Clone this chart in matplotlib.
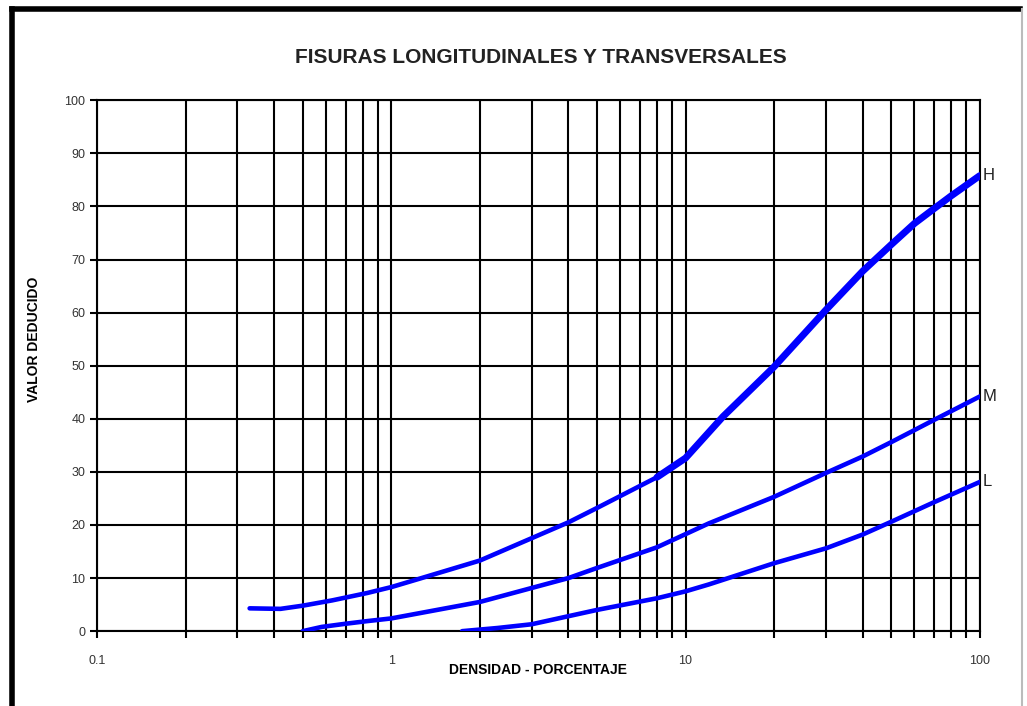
import numpy as np
import matplotlib
matplotlib.use("Agg")
import matplotlib.pyplot as plt
from matplotlib.lines import Line2D
from matplotlib.ticker import LogLocator, FixedLocator, NullFormatter

plt.rcParams['font.family'] = ['Liberation Sans', 'DejaVu Sans']

# curve H (high severity)
h_dens = [0.33, 0.42, 0.5, 0.63, 0.83, 1, 1.25, 2, 4, 5, 8, 10, 13.4, 20, 30, 40, 50, 60, 70, 80, 100]
h_val = [4.3, 4.2, 4.8, 5.8, 7.2, 8.3, 9.9, 13.3, 20.5, 23.2, 29, 32.6, 40.4, 49.8, 60.5, 67.8, 72.8, 76.8, 79.6, 82, 85.8]

# curve M (medium severity)
m_dens = [0.5, 0.58, 0.7, 0.83, 1, 2, 4, 5, 8, 12, 20, 30, 40, 50, 70, 100]
m_val = [0, 0.8, 1.4, 1.9, 2.4, 5.5, 10, 11.9, 15.8, 20.3, 25.3, 29.8, 32.9, 35.6, 39.8, 44.2]

# curve L (low severity)
l_dens = [1.74, 2.3, 3, 5, 8, 10, 12, 20, 30, 40, 50, 70, 100]
l_val = [0, 0.6, 1.3, 4, 6.2, 7.5, 8.8, 12.8, 15.6, 18.2, 20.6, 24.3, 28.1]

y_ticks = list(range(0, 101, 10))
x_ticks = [0.1, 1, 10, 100]
x_ticklabels = ['0.1', '1', '10', '100']

fig = plt.figure(figsize=(10.27, 7.06), dpi=100)
ax = fig.add_axes([0.0945, 0.106, 0.8595, 0.752])

blue = '#0000ff'
ax.plot(h_dens, h_val, color=blue, lw=3.3, solid_capstyle='round', solid_joinstyle='round', zorder=3)
# upper part of H is drawn heavier in the original
hx = np.array(h_dens)
hy = np.array(h_val)
ax.plot(hx[hx >= 8], hy[hx >= 8], color=blue, lw=5, solid_capstyle='round', solid_joinstyle='round', zorder=3)
ax.plot(m_dens, m_val, color=blue, lw=3.3, solid_capstyle='round', solid_joinstyle='round', zorder=3)
ax.plot(l_dens, l_val, color=blue, lw=3.3, solid_capstyle='round', solid_joinstyle='round', zorder=3)

# curve names at the right end
for name, xs, ys in [('H', h_dens, h_val), ('M', m_dens, m_val), ('L', l_dens, l_val)]:
    ax.text(xs[-1] * 1.02, ys[-1], name, fontsize=12, va='center', ha='left',
            color='#222222', clip_on=False)

ax.set_xscale('log')
ax.set_xlim(0.1, 100)
ax.set_ylim(0, 100)
ax.xaxis.set_major_locator(FixedLocator(x_ticks))
ax.set_xticklabels(x_ticklabels)
ax.xaxis.set_minor_locator(LogLocator(base=10, subs=np.arange(2, 10)))
ax.xaxis.set_minor_formatter(NullFormatter())
ax.set_yticks(y_ticks)

ax.grid(True, which='both', axis='x', color='black', lw=1.5)
ax.grid(True, which='major', axis='y', color='black', lw=1.5)
for s in ax.spines.values():
    s.set_linewidth(1.5)
ax.tick_params(axis='both', which='both', direction='out', length=5, width=1.5,
               labelsize=9, colors='black', labelcolor='#333333')
ax.tick_params(axis='x', pad=12)

ax.set_xlabel('DENSIDAD - PORCENTAJE', fontsize=10, fontweight='bold', labelpad=-3)
ax.set_ylabel('VALOR DEDUCIDO', fontsize=10, fontweight='bold')
ax.yaxis.set_label_coords(-0.063, 0.55)

fig.text(0.527, 0.919, 'FISURAS LONGITUDINALES Y TRANSVERSALES', ha='center', va='center',
         fontsize=15, fontweight='bold', color='#222222')

# frame around the figure
fig.add_artist(Line2D([0.0117, 0.0117], [0.0, 0.987], color='black', lw=4, transform=fig.transFigure))
fig.add_artist(Line2D([0.0117, 0.993], [0.987, 0.987], color='black', lw=4, transform=fig.transFigure))
fig.add_artist(Line2D([0.995, 0.995], [0.0, 0.987], color='#bbbbbb', lw=1.5, transform=fig.transFigure))

fig.savefig('out.png', dpi=100)
